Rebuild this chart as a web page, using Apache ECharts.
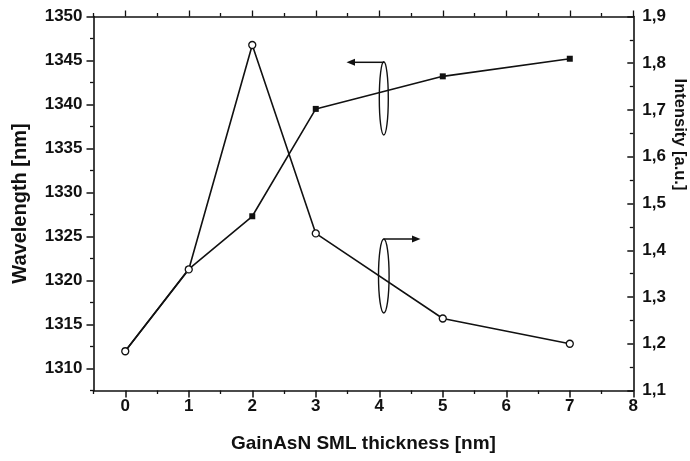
<!DOCTYPE html>
<html>
<head>
<meta charset="utf-8">
<script src="https://cdn.jsdelivr.net/npm/echarts@6/dist/echarts.min.js"></script>
<style>
    html, body { margin: 0; padding: 0; background: #fff; }
    #chart { width: 690px; height: 461px; }
</style>
</head>
<body>
<div id="chart"></div>
<script>
// SML thickness [nm]
const thickness = [0, 1, 2, 3, 5, 7]
// wavelength [nm], filled squares, left axis
const wavelength = [1312.0, 1321.3, 1327.3, 1339.5, 1343.2, 1345.2]
// intensity [a.u.], open circles, right axis
const intensity = [1.184, 1.359, 1.839, 1.436, 1.254, 1.200]

// tick positions
const xTicks = [0, 1, 2, 3, 4, 5, 6, 7, 8]
const xMinorTicks = [-0.5, 0.5, 1.5, 2.5, 3.5, 4.5, 5.5, 6.5, 7.5]
const wlTicks = [1310, 1315, 1320, 1325, 1330, 1335, 1340, 1345, 1350]
const wlMinorTicks = [1307.5, 1312.5, 1317.5, 1322.5, 1327.5, 1332.5, 1337.5, 1342.5, 1347.5]
const intTicks = [1.1, 1.2, 1.3, 1.4, 1.5, 1.6, 1.7, 1.8, 1.9]
const intMinorTicks = [1.15, 1.25, 1.35, 1.45, 1.55, 1.65, 1.75, 1.85]

const FONT = '"Liberation Sans", Arial, sans-serif'
const INK = '#111'

let chart = echarts.init(document.getElementById('chart'), null, { renderer: 'canvas' })

// helper: an axis that only draws (minor) ticks
function tickAxis(base, values, len, inside) {
    return Object.assign({
        type: 'value',
        axisLine: { show: false, onZero: false },
        axisTick: { show: true, inside: !!inside, length: len, customValues: values, lineStyle: { color: INK, width: 1.3 } },
        axisLabel: { show: false },
        splitLine: { show: false }
    }, base)
}

chart.setOption({
    animation: false,
    backgroundColor: '#fff',
    grid: {
        left: 93.5,
        right: 56.7,
        top: 16.5,
        bottom: 70.5,
        containLabel: false,
        outerBoundsMode: 'none'
    },
    xAxis: [
        {
            type: 'value',
            position: 'bottom',
            min: -0.5,
            max: 8,
            axisLine: { show: true, onZero: false, lineStyle: { color: INK, width: 1.6 } },
            axisTick: { show: true, length: 7, customValues: xTicks, lineStyle: { color: INK, width: 1.5 } },
            axisLabel: { customValues: xTicks, color: INK, fontFamily: FONT, fontWeight: 'bold', fontSize: 17, margin: 7 },
            splitLine: { show: false },
            name: 'GainAsN SML thickness [nm]',
            nameLocation: 'middle',
            nameGap: 44,
            nameMoveOverlap: false,
            nameTextStyle: { color: INK, fontFamily: FONT, fontWeight: 'bold', fontSize: 19 }
        },
        tickAxis({ position: 'bottom', min: -0.5, max: 8 }, xMinorTicks, 3.5),
        {
            type: 'value',
            position: 'top',
            min: -0.5,
            max: 8,
            axisLine: { show: true, onZero: false, lineStyle: { color: INK, width: 1.6 } },
            axisTick: { show: true, length: 6, customValues: xTicks, lineStyle: { color: INK, width: 1.3 } },
            axisLabel: { show: false },
            splitLine: { show: false }
        },
        tickAxis({ position: 'top', min: -0.5, max: 8 }, xMinorTicks, 3.5)
    ],
    yAxis: [
        {
            type: 'value',
            position: 'left',
            min: 1307.5,
            max: 1350,
            axisLine: { show: true, onZero: false, lineStyle: { color: INK, width: 1.6 } },
            axisTick: { show: true, length: 7, customValues: wlTicks, lineStyle: { color: INK, width: 1.5 } },
            axisLabel: {
                customValues: wlTicks,
                color: INK, fontFamily: FONT, fontWeight: 'bold', fontSize: 17, margin: 11,
                formatter: (v) => String(v)
            },
            splitLine: { show: false },
            name: 'Wavelength [nm]',
            nameLocation: 'middle',
            nameRotate: 90,
            nameGap: 63,
            nameMoveOverlap: false,
            nameTextStyle: { color: INK, fontFamily: FONT, fontWeight: 'bold', fontSize: 20 }
        },
        {
            type: 'value',
            position: 'right',
            min: 1.1,
            max: 1.9,
            axisLine: { show: true, onZero: false, lineStyle: { color: INK, width: 1.6 } },
            axisTick: { show: true, inside: true, length: 6, customValues: intTicks, lineStyle: { color: INK, width: 1.5 } },
            axisLabel: {
                customValues: intTicks,
                color: INK, fontFamily: FONT, fontWeight: 'bold', fontSize: 17, margin: 9,
                formatter: (v) => v.toFixed(1).replace('.', ',')
            },
            splitLine: { show: false },
            name: 'Intensity [a.u.]',
            nameLocation: 'middle',
            nameRotate: -90,
            nameGap: 38,
            nameMoveOverlap: false,
            nameTextStyle: { color: INK, fontFamily: FONT, fontWeight: 'bold', fontSize: 16.5, padding: [0, 138, 0, 0] }
        },
        tickAxis({ position: 'left', min: 1307.5, max: 1350 }, wlMinorTicks, 3.5),
        tickAxis({ position: 'right', min: 1.1, max: 1.9 }, intMinorTicks, 3.5, true)
    ],
    series: [
        {
            name: 'Wavelength',
            type: 'line',
            xAxisIndex: 0,
            yAxisIndex: 0,
            data: thickness.map((x, i) => [x, wavelength[i]]),
            symbol: 'rect',
            symbolSize: 6,
            lineStyle: { color: INK, width: 1.6 },
            itemStyle: { color: INK, borderColor: INK, borderWidth: 0 },
            z: 2
        },
        {
            name: 'Intensity',
            type: 'line',
            xAxisIndex: 0,
            yAxisIndex: 1,
            data: thickness.map((x, i) => [x, intensity[i]]),
            symbol: 'circle',
            symbolSize: 7,
            lineStyle: { color: INK, width: 1.6 },
            itemStyle: { color: '#fff', borderColor: INK, borderWidth: 1.3 },
            z: 3
        }
    ],
    // the two "which axis" markers (ellipse + arrow)
    graphic: [
        { type: 'ellipse', shape: { cx: 383.8, cy: 98.4, rx: 4.5, ry: 36.6 }, style: { fill: 'none', stroke: INK, lineWidth: 1.4 }, z: 10 },
        { type: 'polyline', shape: { points: [[384, 62.3], [354, 62.3]] }, style: { stroke: INK, lineWidth: 1.5, fill: 'none' }, z: 10 },
        { type: 'polygon', shape: { points: [[346.5, 62.3], [355, 58.8], [355, 65.8]] }, style: { fill: INK }, z: 10 },

        { type: 'ellipse', shape: { cx: 383.8, cy: 276, rx: 5.3, ry: 37 }, style: { fill: 'none', stroke: INK, lineWidth: 1.4 }, z: 10 },
        { type: 'polyline', shape: { points: [[383.5, 239], [412, 239]] }, style: { stroke: INK, lineWidth: 1.5, fill: 'none' }, z: 10 },
        { type: 'polygon', shape: { points: [[420.5, 239], [412, 235.5], [412, 242.5]] }, style: { fill: INK }, z: 10 }
    ]
})
</script>
</body>
</html>
